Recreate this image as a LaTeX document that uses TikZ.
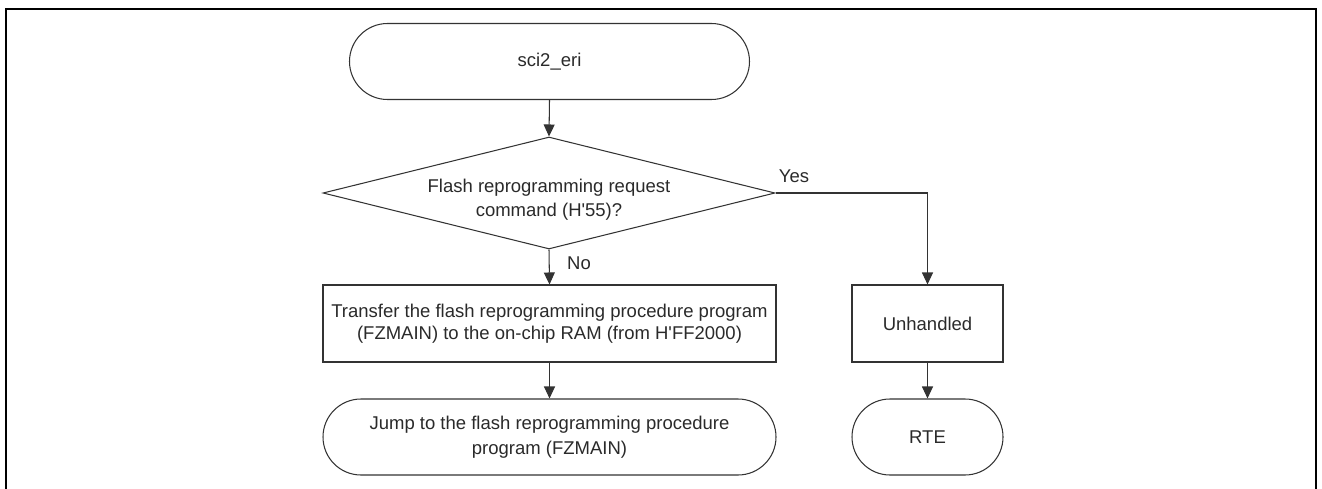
\documentclass[tikz,border=0pt]{standalone}
\usepackage{fontspec}
\newfontfamily\arial{Liberation Sans}
\usetikzlibrary{arrows.meta,shapes.geometric,positioning}
\definecolor{ln}{HTML}{333333}
\definecolor{tx}{HTML}{2A2A2A}
\tikzset{
  base/.style={draw=ln, line width=1.05pt, text=tx, align=center, inner sep=0pt,
    font=\arial\fontsize{18.5}{22}\selectfont},
  term/.style={base, rectangle, rounded corners=38pt, minimum height=76pt},
  proc/.style={base, rectangle, minimum height=77pt},
  dec/.style={draw=ln, line width=1.05pt, diamond, inner sep=0pt, minimum width=452pt, minimum height=112pt},
  lbl/.style={text=tx, inner sep=0pt, align=center, font=\arial\fontsize{18.5}{24}\selectfont},
  conn/.style={draw=ln, line width=1.05pt, -{Triangle[width=11pt,length=12pt]}},
}
\begin{document}
\begin{tikzpicture}[x=1pt,y=-1pt]
\useasboundingbox (0,0) rectangle (1322,489);
\draw[line width=2pt, black] (6,489) -- (6,9) -- (1316,9) -- (1316,489);

\node[term, minimum width=400pt] (start) at (549.5,61.5) {sci2\_eri};
\node[dec] (dec) at (549,193) {};
\node[lbl] (dect) at (549,200) {Flash reprogramming request\\command (H'55)?};
\node[proc, minimum width=453pt] (proc) at (549.5,323.5) {Transfer the flash reprogramming procedure program\\(FZMAIN) to the on-chip RAM (from H'FF2000)};
\node[term, minimum width=453pt, font=\arial\fontsize{18.5}{25}\selectfont] (jump) at (549.5,437) {Jump to the flash reprogramming procedure\\program (FZMAIN)};
\node[proc, minimum width=151pt] (unh) at (927.5,323.5) {Unhandled};
\node[term, minimum width=151pt] (rte) at (927.5,437) {RTE};

\draw[conn] (start.south) -- (dec.north);
\draw[conn] (dec.south) -- (proc.north);
\draw[conn] (dec.east) -| (unh.north);
\draw[conn] (proc.south) -- (jump.north);
\draw[conn] (unh.south) -- (rte.north);

\node[lbl] (no) at (579,263) {No};
\node[lbl] (yes) at (794,176) {Yes};
\end{tikzpicture}
\end{document}
